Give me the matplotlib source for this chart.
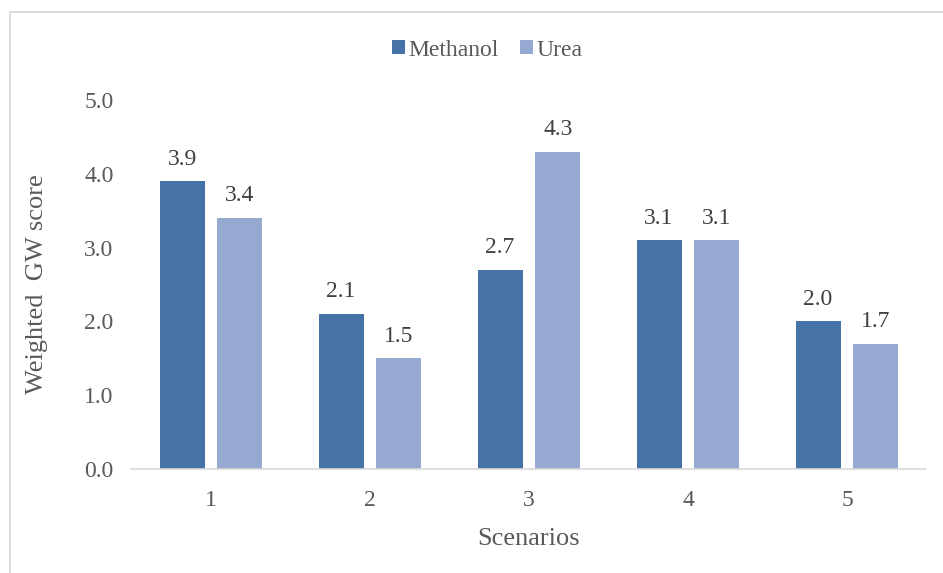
import numpy as np
import matplotlib
matplotlib.use("Agg")
import matplotlib.pyplot as plt
import matplotlib.patches as mpatches

scenarios = ["1", "2", "3", "4", "5"]
methanol = [3.9, 2.1, 2.7, 3.1, 2.0]
urea = [3.4, 1.5, 4.3, 3.1, 1.7]

C_METH = "#4572A7"
C_UREA = "#95A9D1"
TXT = "#595959"

plt.rcParams["font.family"] = ["Liberation Serif", "DejaVu Serif"]

fig = plt.figure(figsize=(9.43, 5.73), dpi=100)
ax = fig.add_axes([0.1394, 0.1815, 0.8431, 0.644])

# outer chart frame (cropped image, only top and left edges visible)
fig.patches.append(mpatches.Rectangle((10 / 943, -0.1), 1.2, 1 - 12 / 573 + 0.1,
                                      transform=fig.transFigure, fill=False,
                                      edgecolor="#D9D9D9", linewidth=1.3))

x = np.arange(len(scenarios))
w = 0.283
off = 0.182
b1 = ax.bar(x - off, methanol, w, color=C_METH, label="Methanol")
b2 = ax.bar(x + off, urea, w, color=C_UREA, label="Urea")

for bars, vals in [(b1, methanol), (b2, urea)]:
    for bar, v in zip(bars, vals):
        ax.text(bar.get_x() + bar.get_width() / 2, v + 0.3, f"{v:.1f}",
                ha="center", va="center", fontsize=17, color="#404040")

ax.set_xlim(-0.5, len(scenarios) - 0.5)
ax.set_ylim(0, 5.0)
ax.set_yticks(np.arange(0, 5.01, 1.0))
ax.set_yticklabels([f"{t:.1f}" for t in np.arange(0, 5.01, 1.0)])
ax.set_xticks(x)
ax.set_xticklabels(scenarios)
ax.tick_params(axis="both", length=0, labelsize=17, labelcolor=TXT)
ax.tick_params(axis="y", pad=13)
ax.tick_params(axis="x", pad=15)

for s in ["top", "right", "left"]:
    ax.spines[s].set_visible(False)
ax.spines["bottom"].set_color("#D9D9D9")
ax.spines["bottom"].set_linewidth(1.2)

ax.set_ylabel("Weighted  GW score", fontsize=19, color=TXT, labelpad=26)
ax.set_xlabel("Scenarios", fontsize=19, color=TXT, labelpad=12)

fig.legend(handles=[b1, b2], loc="center", bbox_to_anchor=(0.517, 1 - 50 / 573),
           ncol=2, frameon=False, fontsize=17, handlelength=0.55, handleheight=0.55,
           handletextpad=0.15, columnspacing=0.9, labelcolor=TXT)

fig.savefig("out.png", dpi=100)
